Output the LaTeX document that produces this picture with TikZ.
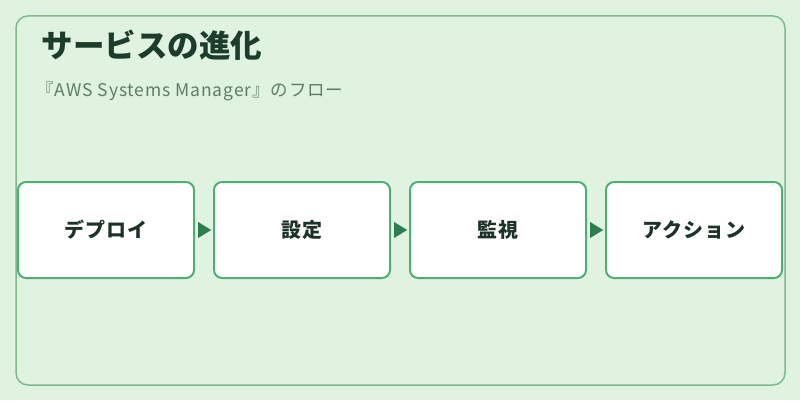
\documentclass[tikz,border=0pt]{standalone}
\usepackage{fontspec}
\setmainfont{Noto Sans CJK JP}
\usepackage{tikz}
\usetikzlibrary{shapes,arrows.meta,positioning}
\definecolor{bgpale}{HTML}{E0F2E0}
\definecolor{framegreen}{HTML}{7DBB8F}
\definecolor{boxgreen}{HTML}{4DAF72}
\definecolor{arrowgreen}{HTML}{2E7D4F}
\definecolor{titledark}{HTML}{1C3D2C}
\definecolor{subgray}{HTML}{5E7D69}
\definecolor{labeldark}{HTML}{1E3328}
\tikzstyle{stage} = [rectangle, draw=boxgreen, line width=2pt, fill=white, rounded corners=8pt,
    minimum width=176pt, minimum height=96pt, text=labeldark,
    font=\fontsize{20pt}{22pt}\selectfont\bfseries\addfontfeatures{LetterSpace=5}]
\tikzstyle{line} = [draw=arrowgreen, line width=0.1pt, shorten <=3pt, shorten >=2pt,
    -{Triangle[length=13pt,width=16pt,fill=arrowgreen]}]

\begin{document}
\begin{tikzpicture}[x=1pt, y=1pt, node distance = 18pt]
    \useasboundingbox (0,0) rectangle (800,400);
    \fill[bgpale] (0,0) rectangle (800,400);
    \draw[framegreen, line width=1.5pt, rounded corners=12pt] (16,15) rectangle (785,384);

    % Place nodes
    \node [anchor=base west, text=titledark, font=\fontsize{31.5pt}{34pt}\selectfont\bfseries] (title) at (38,342) {サービスの進化};
    \node [anchor=base west, text=subgray, font=\fontsize{17.5pt}{20pt}\selectfont\addfontfeatures{LetterSpace=5}] (sub) at (33,304) {『AWS Systems Manager』のフロー};
    \node [stage] (deploy) at (106,170) {デプロイ};
    \node [stage, right=of deploy] (config) {設定};
    \node [stage, right=of config] (watch) {監視};
    \node [stage, right=of watch] (action) {アクション};

    % Draw edges
    \path [line] (deploy) -- (config);
    \path [line] (config) -- (watch);
    \path [line] (watch) -- (action);

\end{tikzpicture}
\end{document}
